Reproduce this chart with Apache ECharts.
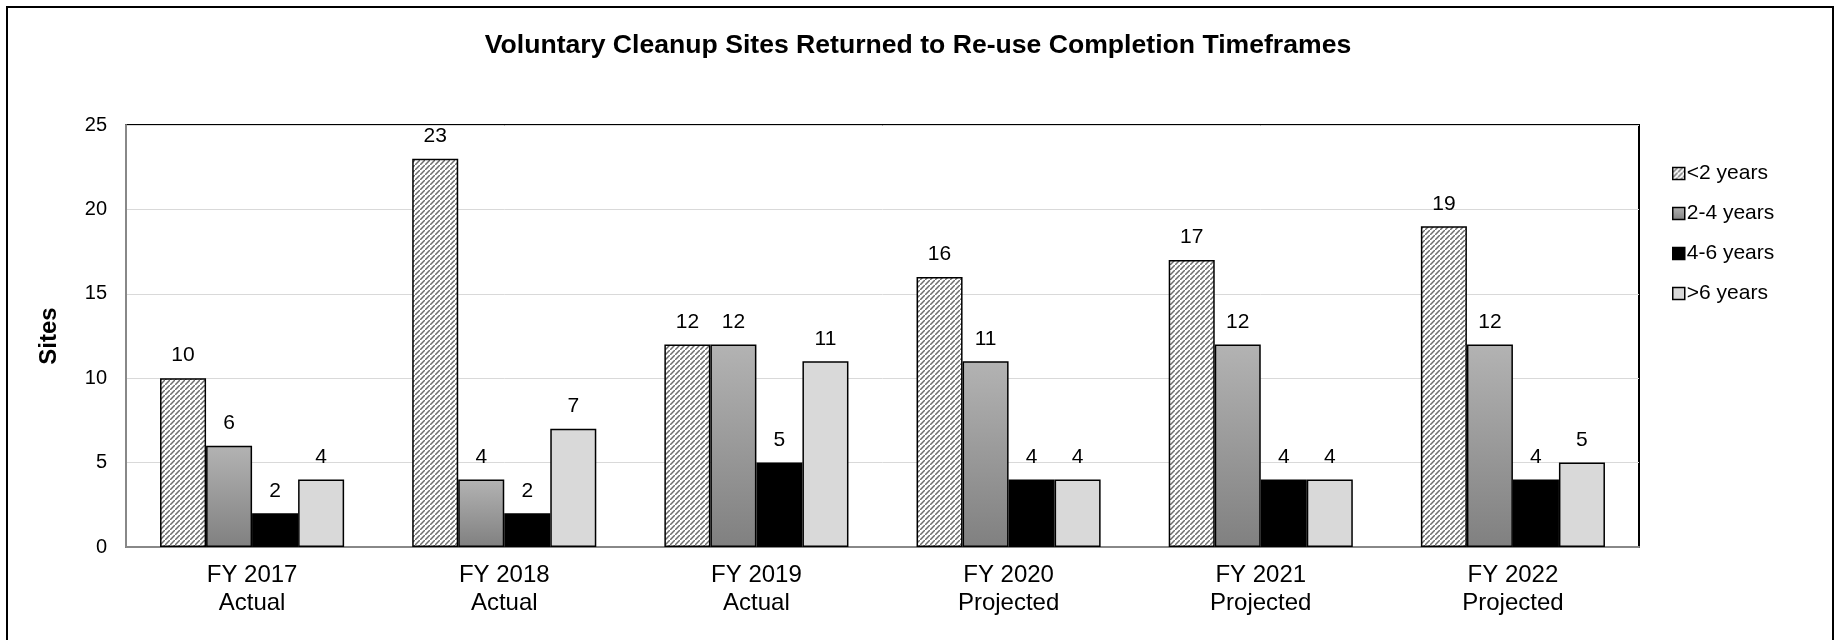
<!DOCTYPE html>
<html>
<head>
<meta charset="utf-8">
<script src="https://cdn.jsdelivr.net/npm/echarts@6/dist/echarts.min.js"></script>
<style>
  html, body { margin: 0; padding: 0; background: #fff; }
  #chart { width: 1836px; height: 640px; }
</style>
</head>
<body>
<div id="chart"></div>
<script>
// data
const categories = [
  "FY 2017\nActual", "FY 2018\nActual", "FY 2019\nActual",
  "FY 2020\nProjected", "FY 2021\nProjected", "FY 2022\nProjected"
];
const seriesNames = ["<2 years", "2-4 years", "4-6 years", ">6 years"];
const under2 = [10, 23, 12, 16, 17, 19];
const twoToFour = [6, 4, 12, 11, 12, 12];
const fourToSix = [2, 2, 5, 4, 4, 4];
const over6 = [4, 7, 11, 4, 4, 5];

const FONT = "'Liberation Sans', Arial, sans-serif";

// diagonal hatch pattern (stripes rising to the right)
function hatch() {
  const s = 5;
  const c = document.createElement("canvas");
  c.width = s;
  c.height = s;
  const ctx = c.getContext("2d");
  ctx.fillStyle = "#fff";
  ctx.fillRect(0, 0, s, s);
  ctx.strokeStyle = "#6e6e6e";
  ctx.lineWidth = 1.5;
  ctx.beginPath();
  ctx.moveTo(-1, s + 1); ctx.lineTo(s + 1, -1);
  ctx.moveTo(-s - 1, 1); ctx.lineTo(1, -s - 1);
  ctx.moveTo(s - 1, 2 * s + 1); ctx.lineTo(2 * s + 1, s - 1);
  ctx.stroke();
  return c;
}

const fills = [
  { image: hatch(), repeat: "repeat" },
  new echarts.graphic.LinearGradient(0, 0, 0, 1, [
    { offset: 0, color: "#b3b3b3" },
    { offset: 1, color: "#808080" }
  ]),
  "#000000",
  "#d9d9d9"
];
const dataArr = [under2, twoToFour, fourToSix, over6];

let chartDom = document.getElementById("chart");
let myChart = echarts.init(chartDom);

const seriesArr = dataArr.map((d, i) => {
  return {
    name: seriesNames[i],
    type: "bar",
    data: d,
    barGap: "0%",
    barCategoryGap: "27%",
    itemStyle: {
      color: fills[i],
      borderColor: "#000",
      borderWidth: 1.5
    },
    label: {
      show: true,
      position: "top",
      distance: 12,
      color: "#000",
      fontFamily: FONT,
      fontSize: 21
    }
  };
});

myChart.setOption({
  animation: false,
  title: {
    text: "Voluntary Cleanup Sites Returned to Re-use Completion Timeframes",
    left: "center",
    top: 27,
    textStyle: { fontFamily: FONT, fontSize: 26.6, fontWeight: "bold", color: "#000" }
  },
  graphic: [{
    type: "rect",
    shape: { x: 7, y: 7, width: 1826, height: 700 },
    style: { fill: "none", stroke: "#000", lineWidth: 2 },
    silent: true
  }],
  legend: {
    data: seriesNames,
    orient: "vertical",
    left: 1667,
    top: 158,
    icon: "rect",
    itemWidth: 12,
    itemHeight: 12,
    itemGap: 19,
    textStyle: { fontFamily: FONT, fontSize: 21, color: "#000", padding: [0, 0, 0, -3] },
    itemStyle: { borderColor: "#000", borderWidth: 1.5 }
  },
  grid: {
    left: 126,
    right: 197,
    top: 125,
    bottom: 93,
    show: true,
    borderColor: "#000",
    borderWidth: 2
  },
  xAxis: {
    type: "category",
    data: categories,
    axisLine: { lineStyle: { color: "#888", width: 2 } },
    axisTick: { show: false },
    axisLabel: {
      color: "#000",
      fontFamily: FONT,
      fontSize: 24,
      lineHeight: 28,
      margin: 14
    }
  },
  yAxis: {
    type: "value",
    min: 0,
    max: 25,
    interval: 5,
    name: "Sites",
    nameLocation: "middle",
    nameGap: 65,
    nameTextStyle: { fontFamily: FONT, fontSize: 24, fontWeight: "bold", color: "#000" },
    axisLine: { show: true, lineStyle: { color: "#888", width: 2 } },
    axisTick: { show: false },
    axisLabel: { color: "#000", fontFamily: FONT, fontSize: 20, margin: 19 },
    splitLine: { lineStyle: { color: "#d9d9d9", width: 1 } }
  },
  series: seriesArr
});
window.onresize = myChart.resize;
</script>
</body>
</html>
